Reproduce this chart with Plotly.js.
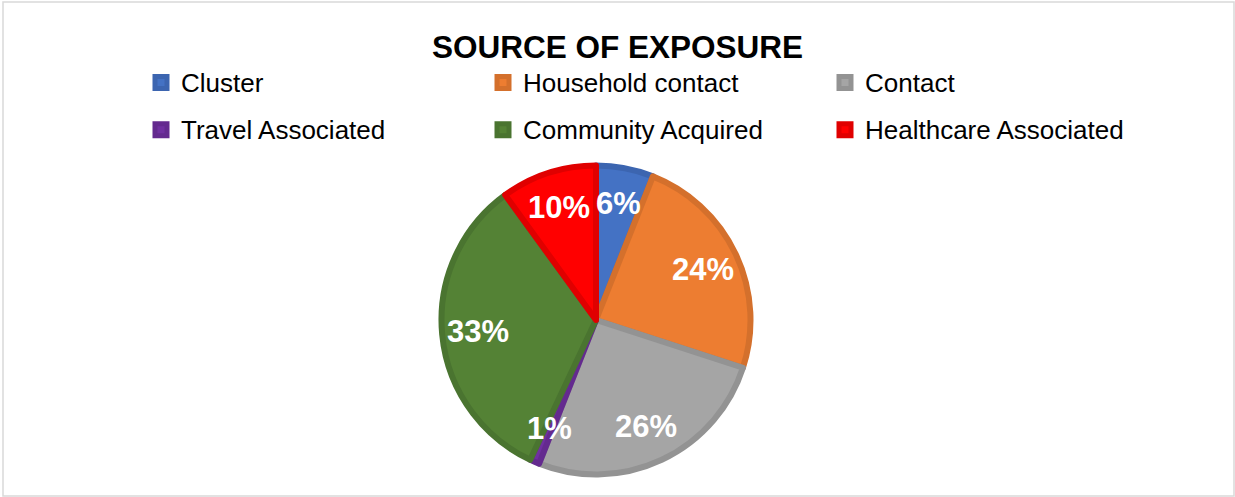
<!DOCTYPE html>
<html>
<head>
<meta charset="utf-8">
<script src="https://cdn.plot.ly/plotly-3.0.1.min.js"></script>
<style>html,body{margin:0;padding:0;background:#fff;}#chart{width:1235px;height:497px;}</style>
</head>
<body>
<div id="chart"></div>
<script>
// ---- data ----
const categories = ["Cluster", "Household contact", "Contact", "Travel Associated", "Community Acquired", "Healthcare Associated"];
const shares = [6, 24, 26, 1, 33, 10];
const fillColors = ["#4472C4", "#ED7D31", "#A5A5A5", "#7030A0", "#548235", "#FF0000"];
const edgeColors = ["#3C65B0", "#D4702C", "#939393", "#642A8F", "#4A7430", "#E00000"];
const chartTitle = "SOURCE OF EXPOSURE";

// ---- geometry (figure is 1235 x 497, margins 0) ----
const W = 1235, H = 497;
const cx = 596, cy = 320, rOuter = 157.5, edgeW = 6;
const r = rOuter - edgeW / 2;
const labelFrac = 0.75;

const trace = {
  type: "pie",
  labels: categories.map(s => '<span style="font-size:26px;baseline-shift:4px">' + s + '</span>'),
  values: shares,
  sort: false,
  direction: "clockwise",
  rotation: 0,
  marker: { colors: fillColors, line: { color: edgeColors, width: edgeW } },
  textinfo: "none",
  hoverinfo: "label+percent",
  domain: { x: [(cx - r) / W, (cx + r) / W], y: [(H - cy - r) / H, (H - cy + r) / H] }
};

// percentage labels placed on each slice's bisector (computed from the data)
const total = shares.reduce((a, b) => a + b, 0);
let cum = 0;
const annotations = shares.map(v => {
  const mid = (cum + v / 2) / total * 2 * Math.PI;
  cum += v;
  const R = rOuter * labelFrac;
  return {
    xref: "paper", yref: "paper",
    x: (cx + R * Math.sin(mid)) / W,
    y: 1 - (cy - R * Math.cos(mid)) / H,
    text: Math.round(v / total * 100) + "%",
    showarrow: false, xanchor: "center", yanchor: "middle",
    font: { family: "Liberation Sans, Arial, sans-serif", size: 31, color: "#ffffff", weight: 700 }
  };
});

const layout = {
  width: W, height: H,
  margin: { l: 0, r: 0, t: 0, b: 0 },
  paper_bgcolor: "#ffffff",
  showlegend: true,
  title: {
    text: chartTitle,
    font: { family: "Liberation Sans, Arial, sans-serif", size: 31.5, color: "#000000", weight: 700 },
    x: 0.5, xanchor: "center", xref: "container",
    y: 1 - 47 / H, yanchor: "middle", yref: "container"
  },
  legend: {
    orientation: "h",
    xref: "paper", yref: "paper",
    x: 141 / W, xanchor: "left",
    y: 1 - 54 / H, yanchor: "top",
    entrywidth: 297, entrywidthmode: "pixels",
    font: { family: "Liberation Sans, Arial, sans-serif", size: 34, color: "#000000" },
    traceorder: "normal",
    bgcolor: "rgba(0,0,0,0)"
  },
  annotations: annotations,
  shapes: [{
    type: "rect", xref: "paper", yref: "paper",
    x0: 3 / W, x1: 1234 / W, y0: 1 - 496 / H, y1: 1 - 2 / H,
    line: { color: "#D9D9D9", width: 1.5 }, fillcolor: "rgba(0,0,0,0)", layer: "below"
  }]
};

Plotly.newPlot("chart", [trace], layout, { displayModeBar: false, staticPlot: true });
</script>
</body>
</html>
